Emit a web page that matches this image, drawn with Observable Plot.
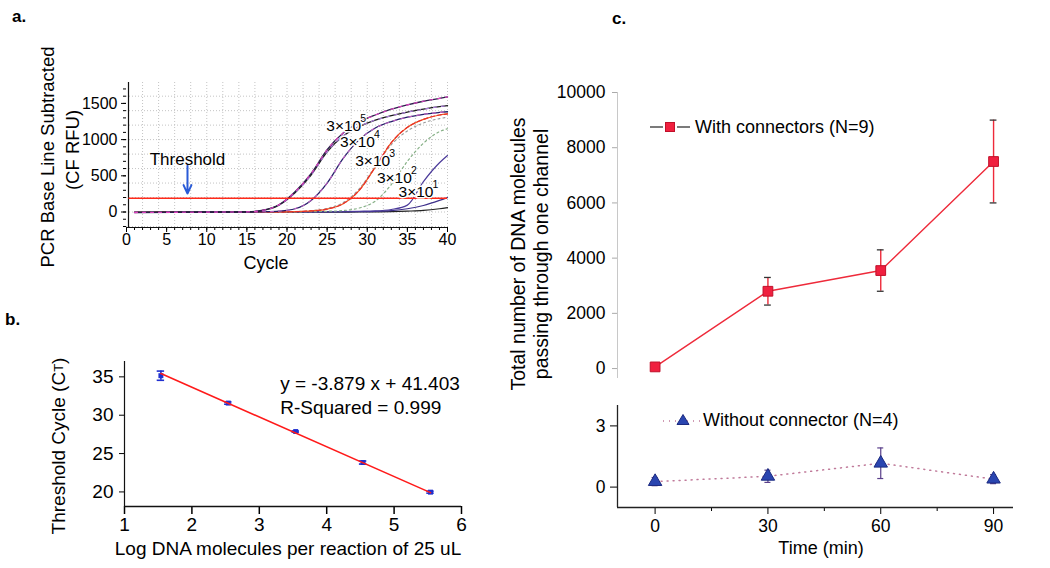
<!DOCTYPE html>
<html><head><meta charset="utf-8">
<script src="https://cdn.jsdelivr.net/npm/d3@7"></script>
<script src="https://cdn.jsdelivr.net/npm/@observablehq/plot@0.6"></script>
<style>
body{margin:0;background:#fff;}
#fig{position:relative;width:1050px;height:568px;overflow:hidden;font-family:'Liberation Sans',Arial,Helvetica,sans-serif;}
#fig svg{position:absolute;}
</style></head><body><div id="fig"></div><script>
// ---------- Panel a: amplification curves ----------
const cycles   = [1, 10, 15, 17, 19, 21, 23, 25, 27, 29, 31, 33, 35, 37, 39, 40];
const rfu3e5a  = [-8, -2, 2, 25, 100, 280, 530, 860, 1090, 1240, 1340, 1420, 1480, 1530, 1570, 1590];
const rfu3e5b  = [-5, -2, 2, 22, 95, 265, 510, 830, 1050, 1180, 1270, 1330, 1380, 1420, 1455, 1470];
const rfu3e4   = [-5, 0, 0, 3, 12, 45, 160, 400, 740, 1000, 1160, 1250, 1310, 1350, 1375, 1385];
const rfu3e3   = [-5, 0, 0, 0, 2, 5, 15, 40, 115, 300, 620, 960, 1170, 1280, 1340, 1355];
const rfu3e3b  = [-5, 0, 0, 0, 2, 6, 18, 50, 130, 320, 630, 930, 1120, 1230, 1290, 1310];
const rfu3e2   = [-5, 0, 0, 0, 0, 2, 5, 10, 20, 55, 150, 380, 700, 950, 1110, 1150];
const rfu3e1   = [-5, 0, 0, 0, 0, 0, 2, 4, 6, 10, 15, 35, 95, 420, 680, 780];
const rfuLowA  = [-5, 0, 0, 0, 0, 0, 0, 2, 4, 6, 10, 20, 45, 90, 160, 200];
const rfuLowB  = [-5, -2, -2, -2, -2, -2, -2, -2, -1, 0, 2, 5, 12, 22, 45, 60];
const thresholdRfu = 190;
const thresholdSpan = [0.3, 40];
const thresholdArrow = [{cycle: 7.6, from: 640, to: 255}];
const thresholdLabel = [{cycle: 7.6, rfu: 725, text: "Threshold"}];
const curveLabelBase = ["3×10", "3×10", "3×10", "3×10", "3×10"];
const curveLabelExp  = ["5", "4", "3", "2", "1"];
const curveLabelCycle = [24.9, 26.6, 28.5, 31.2, 33.9];
const curveLabelRfu   = [1188, 967, 711, 470, 276];
const cycleTicks = [0, 5, 10, 15, 20, 25, 30, 35, 40];
const cycleMinor = d3.range(0, 41, 1);
const rfuTicks = [0, 500, 1000, 1500];
const rfuMinor = d3.range(-200, 1701, 100);
const cycleGrid = d3.range(2, 41, 2);
const rfuGrid = d3.range(-200, 1790, 200);

// ---------- Panel b: standard curve ----------
const logMolecules = [1.54, 2.54, 3.54, 4.54, 5.54];
const ctMean = [35.15, 31.58, 27.87, 23.83, 19.97];
const ctErr  = [0.6, 0.15, 0.08, 0.2, 0.13];
const fitLogX = [1.54, 5.54];
const fitCt   = [35.43, 19.91];
const logTicks = [1, 2, 3, 4, 5, 6];
const ctTicks = [20, 25, 30, 35];
const fitText = ["y = -3.879 x + 41.403", "R-Squared = 0.999"];
const fitTextX = [3.31, 3.31];
const fitTextY = [34.1, 30.97];

// ---------- Panel c: DNA molecules vs time ----------
const timeMin = [0, 30, 60, 90];
const withMean = [60, 2800, 3550, 7500];
const withErr  = [0, 500, 750, 1500];
const withoutMean = [0.27, 0.53, 1.17, 0.39];
const withoutErr  = [0.2, 0.3, 0.75, 0.22];
const countTicks = [0, 2000, 4000, 6000, 8000, 10000];
const lowTicks = [0, 3];
const timeTicks = [0, 30, 60, 90];
const timeMinor = [15, 45, 75];

const FONT = "'Liberation Sans', Arial, Helvetica, sans-serif";
const fig = document.getElementById("fig");
function place(node, left, top) { node.style.left = left + "px"; node.style.top = top + "px"; fig.append(node); }

// ---- Panel a ----
const xDomA = [0, 40], yDomA = [-214, 1789];
const curveSpecs = [
  {v: rfuLowB, c: "#222222", w: 1.2},
  {v: rfuLowA, c: "#3d2f8a", w: 1.2},
  {v: rfu3e1, c: "#4b3a9a", w: 1.2},
  {v: rfu3e2, c: "#86b086", w: 1.2, d: "2,3"},
  {v: rfu3e3b, c: "#9a9a9a", w: 1.1, d: "2,3"},
  {v: rfu3e3, c: "#ee5a22", w: 1.2},
  {v: rfu3e3, c: "#e8302a", w: 1.2, d: "4,3"},
  {v: rfu3e4, c: "#24206a", w: 1.3},
  {v: rfu3e4, c: "#c060c0", w: 1.1, d: "3,5"},
  {v: rfu3e5b, c: "#1b1b1b", w: 1.3},
  {v: rfu3e5b, c: "#b080e0", w: 1.1, d: "3,5"},
  {v: rfu3e5a, c: "#2a1f4a", w: 1.3},
  {v: rfu3e5a, c: "#e040c0", w: 1.1, d: "3,5"}
];
const curveMarks = curveSpecs.map(s => Plot.line(cycles.map((c, i) => ({c, v: s.v[i]})),
  {x: "c", y: "v", stroke: s.c, strokeWidth: s.w, strokeDasharray: s.d, curve: "monotone-x"}));
const labelRows = curveLabelBase.map((t, i) => ({t, e: curveLabelExp[i], x: curveLabelCycle[i], y: curveLabelRfu[i]}));

const plotA = Plot.plot({
  width: 470, height: 290, marginLeft: 126, marginRight: 23, marginTop: 82, marginBottom: 63,
  x: {domain: xDomA}, y: {domain: yDomA},
  style: {fontFamily: FONT, fontSize: "16px", background: "transparent", color: "black"},
  marks: [
    Plot.gridX(cycleGrid, {stroke: "#c4c4c4", strokeOpacity: 1, strokeDasharray: "1,2"}),
    Plot.gridY(rfuGrid, {stroke: "#c4c4c4", strokeOpacity: 1, strokeDasharray: "1,2"}),
    Plot.axisX({ticks: cycleMinor, tickSize: 3, tickFormat: () => "", label: null}),
    Plot.axisX({ticks: cycleTicks, tickSize: 5, tickPadding: 1, tickFormat: "d", label: null}),
    Plot.axisY({ticks: rfuMinor, tickSize: 3, tickFormat: () => "", label: null}),
    Plot.axisY({ticks: rfuTicks, tickSize: 5, tickPadding: 4, tickFormat: "d", label: null}),
    Plot.ruleY([yDomA[0]], {stroke: "#111", strokeWidth: 1.2}),
    Plot.ruleX([xDomA[0]], {stroke: "#111", strokeWidth: 1.2, dx: 2}),
    ...curveMarks,
    Plot.ruleY([thresholdRfu], {x1: thresholdSpan[0], x2: thresholdSpan[1], stroke: "#ff2a1a", strokeWidth: 1.6}),
    Plot.arrow(thresholdArrow, {x1: "cycle", x2: "cycle", y1: "from", y2: "to", stroke: "#2a5bd7", strokeWidth: 2, headLength: 9, headAngle: 50}),
    Plot.text(thresholdLabel, {x: "cycle", y: "rfu", text: "text", fontSize: 17}),
    Plot.text(labelRows, {x: "x", y: "y", text: "t", textAnchor: "start", fontSize: 15.5, stroke: "white", strokeWidth: 3, fill: "black"}),
    Plot.text(labelRows, {x: "x", y: "y", text: "e", textAnchor: "start", fontSize: 10.5, dx: 34, dy: -7, stroke: "white", strokeWidth: 2, fill: "black"})
  ]
});
place(plotA, 0, 0);

// ---- Panel b ----
const xDomB = [1, 6], yDomB = [18.1, 37];
const ctRows = logMolecules.map((x, i) => ({x, y: ctMean[i], lo: ctMean[i] - ctErr[i], hi: ctMean[i] + ctErr[i]}));
const fitRows = fitLogX.map((x, i) => ({x, y: fitCt[i]}));
const capB = 0.055;
const plotB = Plot.plot({
  width: 480, height: 268, marginLeft: 124, marginRight: 19, marginTop: 61, marginBottom: 62,
  x: {domain: xDomB}, y: {domain: yDomB},
  style: {fontFamily: FONT, fontSize: "19px", background: "transparent", color: "black"},
  marks: [
    Plot.axisX({ticks: logTicks, tickSize: 8, tickPadding: 3, tickFormat: "d", label: null, strokeWidth: 1.5}),
    Plot.axisY({ticks: ctTicks, tickSize: 5, tickPadding: 6, tickFormat: "d", label: null}),
    Plot.ruleY([yDomB[0]], {stroke: "#111", strokeWidth: 1.5}),
    Plot.ruleX([xDomB[0]], {stroke: "#111", strokeWidth: 1.2}),
    Plot.dot(ctRows, {x: "x", y: "y", symbol: "square", r: 2.8, fill: "#2030d0"}),
    Plot.ruleX(ctRows, {x: "x", y1: "lo", y2: "hi", stroke: "#2030d0", strokeWidth: 1.6}),
    Plot.ruleY(ctRows, {y: "lo", x1: d => d.x - capB, x2: d => d.x + capB, stroke: "#2030d0", strokeWidth: 1.6}),
    Plot.ruleY(ctRows, {y: "hi", x1: d => d.x - capB, x2: d => d.x + capB, stroke: "#2030d0", strokeWidth: 1.6}),
    Plot.line(fitRows, {x: "x", y: "y", stroke: "#ff1a1a", strokeWidth: 1.6}),
    Plot.text(fitText.map((t, i) => ({t, x: fitTextX[i], y: fitTextY[i]})), {x: "x", y: "y", text: "t", textAnchor: "start", fontSize: 19})
  ]
});
place(plotB, 0, 300);

// ---- Panel c top ----
const xDomC = [-10, 95.3];
const yDomCTop = [-360, 10000];
const withRows = timeMin.map((t, i) => ({t, y: withMean[i], lo: withMean[i] - withErr[i], hi: withMean[i] + withErr[i]}));
const withErrRows = withRows.filter(d => d.hi > d.lo);
const capC = 0.9;
const plotCTop = Plot.plot({
  width: 550, height: 330, marginLeft: 117, marginRight: 37, marginTop: 32, marginBottom: 12,
  x: {domain: xDomC, axis: null}, y: {domain: yDomCTop},
  style: {fontFamily: FONT, fontSize: "17.5px", background: "transparent", color: "black"},
  marks: [
    Plot.axisY({ticks: countTicks, tickSize: 5, tickPadding: 7, tickFormat: "d", label: null, stroke: "#aaa"}),
    Plot.ruleX([xDomC[0]], {y1: yDomCTop[0], y2: countTicks[countTicks.length - 1], stroke: "#c8c8c8", strokeWidth: 1}),
    Plot.ruleX(withErrRows, {x: "t", y1: "lo", y2: "hi", stroke: "#ee2a3a", strokeWidth: 1.4}),
    Plot.ruleY(withErrRows, {y: "lo", x1: d => d.t - capC, x2: d => d.t + capC, stroke: "#333", strokeWidth: 1.3}),
    Plot.ruleY(withErrRows, {y: "hi", x1: d => d.t - capC, x2: d => d.t + capC, stroke: "#333", strokeWidth: 1.3}),
    Plot.line(withRows, {x: "t", y: "y", stroke: "#ee2a3a", strokeWidth: 1.4}),
    Plot.dot(withRows, {x: "t", y: "y", symbol: "square", r: 5.5, fill: "#f0203f", stroke: "#c0102a", strokeWidth: 1})
  ]
});
place(plotCTop, 500, 60);

// ---- Panel c bottom ----
const yDomCBot = [-1, 4];
const withoutRows = timeMin.map((t, i) => ({t, y: withoutMean[i], lo: withoutMean[i] - withoutErr[i], hi: withoutMean[i] + withoutErr[i]}));
const plotCBot = Plot.plot({
  width: 550, height: 178, marginLeft: 117, marginRight: 37, marginTop: 15, marginBottom: 61,
  x: {domain: xDomC}, y: {domain: yDomCBot},
  style: {fontFamily: FONT, fontSize: "17.5px", background: "transparent", color: "black"},
  marks: [
    Plot.axisX({ticks: timeMinor, tickSize: 4, tickFormat: () => "", label: null}),
    Plot.axisX({ticks: timeTicks, tickSize: 7, tickPadding: 5, tickFormat: "d", label: null}),
    Plot.axisY({ticks: lowTicks, tickSize: 7, tickPadding: 5, tickFormat: "d", label: null}),
    Plot.ruleY([yDomCBot[0]], {stroke: "#222", strokeWidth: 1.5}),
    Plot.ruleX([xDomC[0]], {stroke: "#222", strokeWidth: 1.3}),
    Plot.line(withoutRows, {x: "t", y: "y", stroke: "#c07a9a", strokeWidth: 1.5, strokeDasharray: "1,5"}),
    Plot.ruleX(withoutRows, {x: "t", y1: "lo", y2: "hi", stroke: "#5a3f8a", strokeWidth: 1.2}),
    Plot.ruleY(withoutRows, {y: "lo", x1: d => d.t - 0.8, x2: d => d.t + 0.8, stroke: "#5a3f8a", strokeWidth: 1.2}),
    Plot.ruleY(withoutRows, {y: "hi", x1: d => d.t - 0.8, x2: d => d.t + 0.8, stroke: "#5a3f8a", strokeWidth: 1.2}),
    Plot.dot(withoutRows, {x: "t", y: "y", symbol: "triangle", r: 5, fill: "#2a45b0", stroke: "#1c2a80", strokeWidth: 1})
  ]
});
place(plotCBot, 500, 390);

// ---- Overlay: panel letters, axis titles, legends ----
const ov = document.createElementNS("http://www.w3.org/2000/svg", "svg");
ov.setAttribute("width", 1050); ov.setAttribute("height", 568);
ov.style.pointerEvents = "none";
ov.setAttribute("font-family", FONT);
ov.innerHTML = `
  <text x="12" y="22" font-size="17" font-weight="bold">a.</text>
  <text x="5" y="325" font-size="17" font-weight="bold">b.</text>
  <text x="612" y="24" font-size="17" font-weight="bold">c.</text>
  <text transform="translate(47,157) rotate(-90)" text-anchor="middle" dominant-baseline="central" font-size="18.5">PCR Base Line Subtracted</text>
  <text transform="translate(72,150) rotate(-90)" text-anchor="middle" dominant-baseline="central" font-size="18.5">(CF RFU)</text>
  <text x="266" y="263" text-anchor="middle" dominant-baseline="central" font-size="18">Cycle</text>
  <text transform="translate(58,446) rotate(-90)" text-anchor="middle" dominant-baseline="central" font-size="19">Threshold Cycle (C<tspan font-size="13">T</tspan>)</text>
  <text x="288" y="548" text-anchor="middle" dominant-baseline="central" font-size="19">Log DNA molecules per reaction of 25 uL</text>
  <text transform="translate(518,254) rotate(-90)" text-anchor="middle" dominant-baseline="central" font-size="19.5">Total number of DNA molecules</text>
  <text transform="translate(541,254) rotate(-90)" text-anchor="middle" dominant-baseline="central" font-size="19.5">passing through one channel</text>
  <text x="821" y="548" text-anchor="middle" dominant-baseline="central" font-size="18">Time (min)</text>
  <line x1="650" y1="127" x2="663" y2="127" stroke="#333" stroke-width="1.3"/>
  <line x1="677" y1="127" x2="690" y2="127" stroke="#333" stroke-width="1.3"/>
  <rect x="665.5" y="122.5" width="9" height="9" fill="#f0203f" stroke="#c0102a"/>
  <text x="695" y="127" dominant-baseline="central" font-size="18">With connectors (N=9)</text>
  <line x1="663" y1="421" x2="700" y2="421" stroke="#c07a9a" stroke-width="1.5" stroke-dasharray="1,5"/>
  <path d="M683,414.5 L689,424.5 L677,424.5 Z" fill="#2a45b0" stroke="#1c2a80"/>
  <text x="703" y="420" dominant-baseline="central" font-size="18">Without connector (N=4)</text>
`;
ov.style.left = "0px"; ov.style.top = "0px";
fig.append(ov);
</script></body></html>
